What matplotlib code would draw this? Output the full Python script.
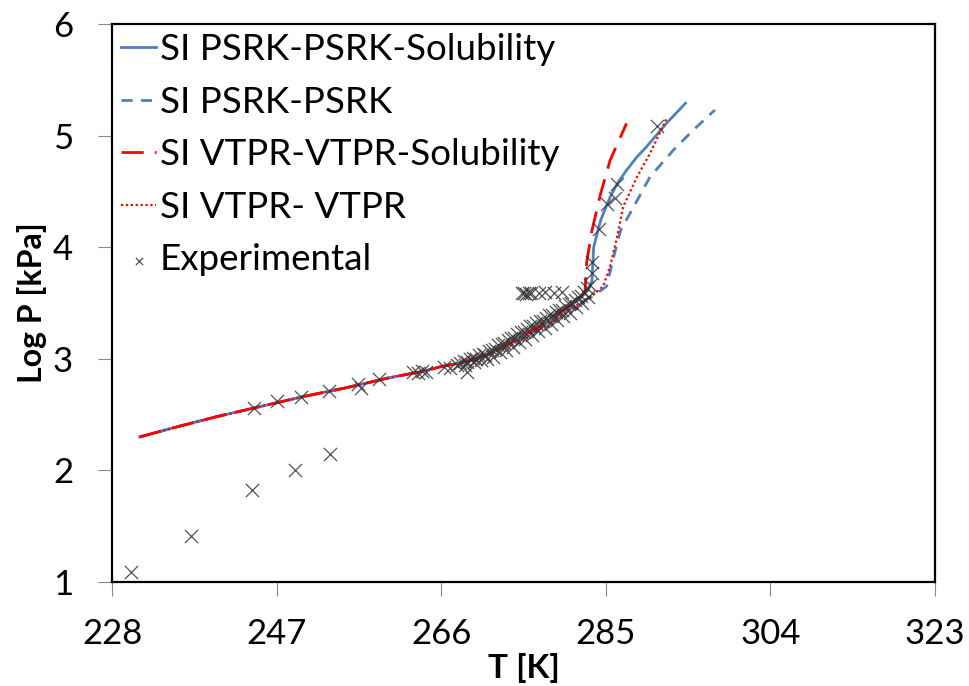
import matplotlib
matplotlib.use("Agg")
import matplotlib.pyplot as plt

plt.rcParams['font.family'] = ['Lato', 'DejaVu Sans']

# ---- model curves ----
t_psrk_sol = [231.2, 235, 240, 245, 250, 255, 260, 264, 266, 268, 270, 272, 274, 276, 278, 280, 281, 282, 283.0, 283.4, 283.5, 283.6, 284.4, 285.5, 286.4, 287.4, 288.5, 289.7, 292.0, 294.2]
p_psrk_sol = [2.30, 2.38, 2.48, 2.57, 2.66, 2.74, 2.83, 2.89, 2.93, 2.96, 3.00, 3.06, 3.14, 3.23, 3.32, 3.43, 3.48, 3.54, 3.62, 3.70, 3.85, 4.00, 4.24, 4.45, 4.58, 4.69, 4.80, 4.90, 5.11, 5.29]

t_psrk = [231.2, 235, 240, 245, 250, 255, 260, 264, 266, 268, 270, 272, 274, 276, 278, 280, 281, 282, 283.5, 285.1, 285.9, 286.7, 288.2, 290.1, 292.8, 295.1, 297.6]
p_psrk = [2.30, 2.38, 2.48, 2.57, 2.66, 2.74, 2.83, 2.89, 2.93, 2.96, 3.00, 3.05, 3.13, 3.21, 3.30, 3.40, 3.45, 3.50, 3.56, 3.65, 3.91, 4.15, 4.36, 4.63, 4.87, 5.05, 5.23]

t_vtpr_sol = [231.2, 235, 240, 245, 250, 255, 260, 264, 266, 268, 270, 272, 274, 276, 278, 280, 281, 282, 282.6, 282.7, 282.8, 283.4, 284.4, 285.5, 287.4]
p_vtpr_sol = [2.30, 2.38, 2.48, 2.57, 2.66, 2.74, 2.83, 2.89, 2.93, 2.96, 3.00, 3.06, 3.14, 3.23, 3.32, 3.43, 3.48, 3.54, 3.60, 3.74, 3.87, 4.15, 4.48, 4.78, 5.11]

t_vtpr = [231.2, 235, 240, 245, 250, 255, 260, 264, 266, 268, 270, 272, 274, 276, 278, 280, 281, 282, 283.5, 284.7, 285.5, 286.3, 287.0, 288.6, 290.1, 292.0]
p_vtpr = [2.30, 2.38, 2.48, 2.57, 2.66, 2.74, 2.83, 2.89, 2.93, 2.96, 3.00, 3.05, 3.13, 3.21, 3.30, 3.40, 3.45, 3.50, 3.57, 3.65, 3.83, 4.09, 4.36, 4.63, 4.84, 5.15]

# ---- experimental points ----
t_exp = [230.2, 237.1, 244.2, 249.1, 253.2,
         244.4, 247.1, 249.8, 253.0, 256.4, 256.8, 258.8, 262.8, 263.3, 263.8, 264.2, 266.3, 267.0, 267.8, 269.0,
         268.2, 268.6, 269.0, 269.3, 269.7, 270.0, 270.4, 270.8, 271.1, 271.5, 271.9, 272.2, 272.6, 273.0, 273.3,
         273.7, 274.1, 274.4, 274.8, 275.2, 275.5, 275.9, 276.3, 276.6, 277.0, 277.4, 277.7, 278.1, 278.5, 278.8,
         279.2, 279.6, 279.9, 280.3, 280.7, 281.0, 281.4, 281.8, 282.1, 282.5, 282.8,
         268.8, 269.8, 270.6, 271.3, 272.0, 272.8, 273.5, 274.3, 275.0, 275.7, 276.5, 277.2, 278.0, 278.7, 279.4,
         280.1, 280.9, 281.6, 282.3, 283.0,
         275.3, 275.5, 275.8, 276.1, 276.4, 277.3, 278.0, 279.0, 280.0,
         283.2, 283.4, 283.4, 284.2, 285.1, 286.1, 286.3, 290.9]
p_exp = [1.09, 1.41, 1.82, 2.00, 2.15,
         2.56, 2.62, 2.66, 2.71, 2.77, 2.74, 2.82, 2.88, 2.87, 2.89, 2.88, 2.93, 2.92, 2.94, 2.88,
         2.96, 2.98, 2.97, 3.00, 3.01, 3.00, 3.03, 3.04, 3.03, 3.07, 3.08, 3.09, 3.12, 3.13, 3.14,
         3.17, 3.19, 3.19, 3.22, 3.24, 3.24, 3.27, 3.29, 3.29, 3.32, 3.34, 3.34, 3.37, 3.39, 3.39,
         3.42, 3.44, 3.44, 3.47, 3.49, 3.50, 3.53, 3.55, 3.56, 3.60, 3.63,
         2.94, 2.97, 2.99, 3.00, 3.02, 3.06, 3.08, 3.11, 3.15, 3.18, 3.21, 3.25, 3.28, 3.31, 3.35,
         3.38, 3.41, 3.46, 3.50, 3.55,
         3.59, 3.59, 3.58, 3.59, 3.59, 3.59, 3.60, 3.59, 3.60,
         3.66, 3.77, 3.87, 4.16, 4.39, 4.44, 4.57, 5.09]

x_ticks = [228, 247, 266, 285, 304, 323]
y_ticks = [1, 2, 3, 4, 5, 6]

fig = plt.figure(figsize=(9.69, 6.86), dpi=100)
ax = fig.add_axes([112/969, 1-582/686, (935-112)/969, (582-24)/686])

blue = '#4F81BD'
red = '#FF0000'
ax.plot(t_psrk_sol, p_psrk_sol, color=blue, lw=2.0, label='SI PSRK-PSRK-Solubility')
ax.plot(t_psrk, p_psrk, color=blue, lw=2.0, ls=(0, (4, 3)), label='SI PSRK-PSRK')
ax.plot(t_vtpr_sol, p_vtpr_sol, color=red, lw=2.0, ls=(0, (8, 4)), label='SI VTPR-VTPR-Solubility')
ax.plot(t_vtpr, p_vtpr, color=red, lw=1.6, ls=(0, (1, 1.2)), label='SI VTPR- VTPR')
ax.scatter(t_exp, p_exp, marker='x', s=90, color='#333333', linewidths=0.9, alpha=0.85, label='Experimental', zorder=5)

ax.set_xlim(228, 323)
ax.set_ylim(1, 6)
ax.set_xticks(x_ticks)
ax.set_yticks(y_ticks)
ax.tick_params(axis='both', which='major', labelsize=25, direction='out', length=10, width=0.8, color='#888888')
ax.tick_params(axis='x', pad=16)
ax.tick_params(axis='y', pad=18)
for s in ax.spines.values():
    s.set_linewidth(1.6)
    s.set_color('black')

ax.set_xlabel('T [K]', fontsize=24, fontweight='bold', labelpad=2)
ax.set_ylabel('Log P [kPa]', fontsize=23, fontweight='bold', labelpad=4)

leg = ax.legend(loc='upper left', frameon=False, fontsize=26.5, handlelength=0.95, handletextpad=0.1,
                labelspacing=0.53, borderaxespad=0.0, borderpad=0.25, scatterpoints=1, markerscale=0.55)

fig.savefig('out.png', dpi=100)
